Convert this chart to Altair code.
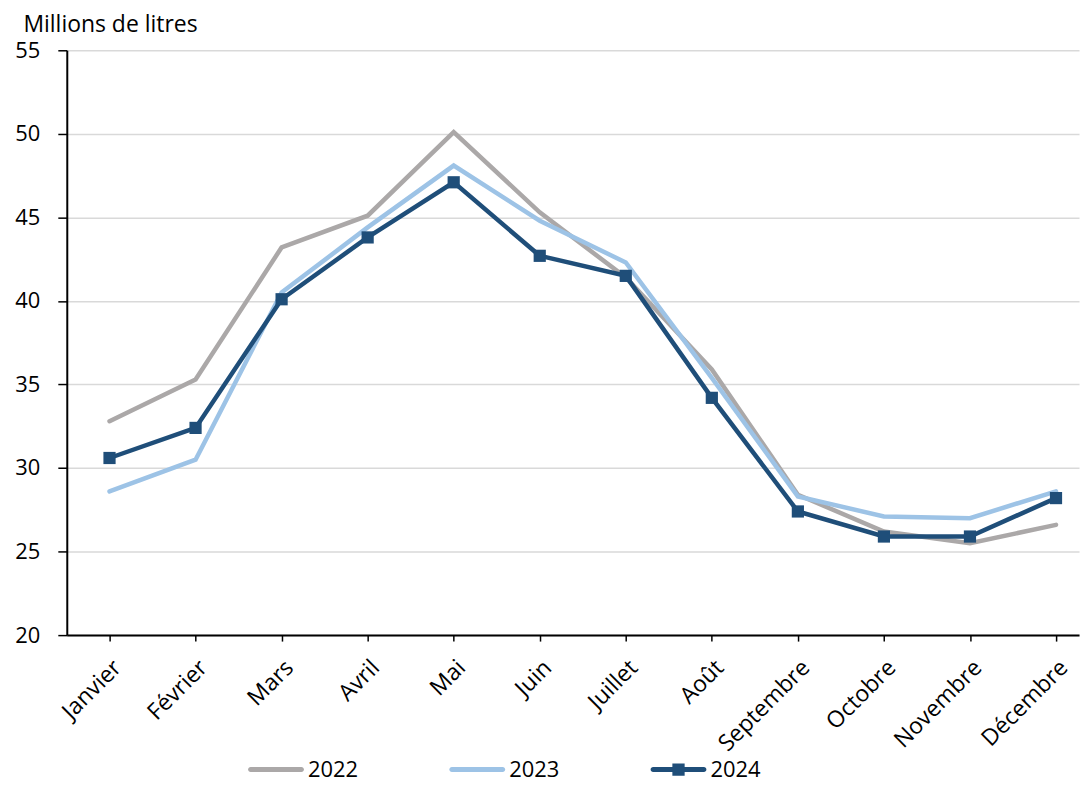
import altair as alt
import pandas as pd

months = ["Janvier", "Février", "Mars", "Avril", "Mai", "Juin", "Juillet",
          "Août", "Septembre", "Octobre", "Novembre", "Décembre"]
years = ["2022", "2023", "2024"]
v2022 = [32.8, 35.3, 43.2, 45.1, 50.1, 45.3, 41.4, 35.9, 28.4, 26.2, 25.5, 26.6]
v2023 = [28.6, 30.5, 40.5, 44.4, 48.1, 44.8, 42.3, 35.4, 28.3, 27.1, 27.0, 28.6]
v2024 = [30.6, 32.4, 40.1, 43.8, 47.1, 42.7, 41.5, 34.2, 27.4, 25.9, 25.9, 28.2]
y_ticks = [20, 25, 30, 35, 40, 45, 50, 55]
colors = ["#ABA8A8", "#9DC3E6", "#1F4E79"]

rows = []
for yr, vals in zip(years, [v2022, v2023, v2024]):
    for m, v in zip(months, vals):
        rows.append({"mois": m, "annee": yr, "valeur": v})
df = pd.DataFrame(rows)

FONT = "Open Sans"

x_enc = alt.X(
    "mois:N", sort=months,
    scale=alt.Scale(type="point", domain=months, padding=0.382, align=0.65),
    axis=alt.Axis(title=None, labelAngle=-45, labelAlign="right", labelBaseline="top",
                  labelFontSize=23, labelFont=FONT, labelColor="#000000",
                  labelPadding=15, tickSize=6, tickColor="#000000", tickWidth=1.5,
                  domainColor="#000000", domainWidth=2, grid=False),
)
y_enc = alt.Y(
    "valeur:Q",
    scale=alt.Scale(domain=[20, 55], nice=False, zero=False),
    axis=alt.Axis(values=y_ticks, title="Millions de litres", titleAngle=0,
                  titleAlign="left", titleBaseline="alphabetic", titleX=-44, titleY=-19,
                  titleFont=FONT, titleFontSize=23, titleFontWeight="normal",
                  titleColor="#000000",
                  labelFontSize=22, labelFont=FONT, labelColor="#000000",
                  labelPadding=18, tickSize=9, tickColor="#000000", tickWidth=1.5,
                  domainColor="#000000", domainWidth=2,
                  grid=True, gridColor="#D9D9D9", gridWidth=1.5),
)

base = alt.Chart(df)

# lines: stroke scale is data-driven (sorted years) so its legend stays separate
lines = base.mark_line(strokeWidth=4.5, strokeCap="round").encode(
    x=x_enc, y=y_enc,
    stroke=alt.Stroke("annee:N", scale=alt.Scale(range=colors), legend=None),
    detail="annee:N",
)

squares = base.transform_filter("datum.annee == '2024'").mark_point(
    shape="square", filled=True, size=150, opacity=1, color="#1F4E79"
).encode(x=x_enc, y=y_enc)

# legend symbols as filled paths (rounded bar, plus a square for 2024)
bar_path = "M-0.91,-0.09H0.91A0.09,0.09 0 0 1 0.91,0.09H-0.91A0.09,0.09 0 0 1 -0.91,-0.09Z"
sq_path = bar_path + "M-0.22,-0.22H0.22V0.22H-0.22Z"

leg = alt.Legend(orient="none", legendX=182, legendY=694, direction="horizontal",
                 symbolSize=3136, symbolStrokeWidth=0, symbolOpacity=1,
                 labelFont=FONT, labelFontSize=22, labelColor="#000000",
                 labelOffset=4, columnPadding=91)

legend_layer = base.mark_point(filled=True, size=0, strokeWidth=0).encode(
    x=x_enc, y=y_enc,
    color=alt.Color("annee:N", scale=alt.Scale(domain=years, range=colors), legend=leg, title=""),
    shape=alt.Shape("annee:N", scale=alt.Scale(domain=years, range=[bar_path, bar_path, sq_path]),
                    legend=leg, title=""),
)

chart = alt.layer(lines, squares, legend_layer).properties(
    width=1016, height=587,
    autosize=alt.AutoSizeParams(type="none"),
    padding={"left": 59, "top": 41, "right": 4, "bottom": 148},
).configure_view(stroke=None)

chart.save("out.html", embed_options={"renderer": "svg", "actions": False})
